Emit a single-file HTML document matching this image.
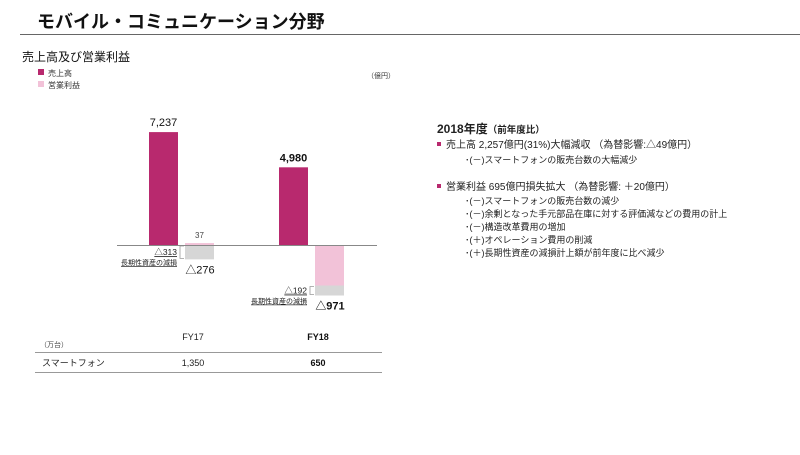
<!DOCTYPE html>
<html><head><meta charset="utf-8"><style>
body{margin:0;background:#fff;width:800px;height:450px;overflow:hidden;font-family:"Liberation Sans","Noto Sans CJK JP",sans-serif;}
svg text{font-family:"Liberation Sans","Noto Sans CJK JP",sans-serif;}
</style></head><body>
<svg width="800" height="450" xmlns="http://www.w3.org/2000/svg">
<text x="37" y="28" font-size="18" font-weight="bold" fill="#111">モバイル・コミュニケーション分野</text>
<line x1="20" y1="34.5" x2="800" y2="34.5" stroke="#666" stroke-width="1"/>
<text x="22" y="61" font-size="12" fill="#111">売上高及び営業利益</text>
<rect x="38" y="69" width="6" height="6" fill="#b8296e"/>
<text x="48" y="76" font-size="8" fill="#333">売上高</text>
<rect x="38" y="81" width="6" height="6" fill="#f2c2d8"/>
<text x="48" y="88" font-size="8" fill="#333">営業利益</text>
<text x="367" y="78" font-size="7" fill="#333">（億円）</text>
<g id="chart"></g>
<line x1="117" y1="245.5" x2="377" y2="245.5" stroke="#888" stroke-width="1"/>
<text x="193" y="340" font-size="9" fill="#222" text-anchor="middle">FY17</text>
<text x="318" y="340" font-size="9" font-weight="bold" fill="#111" text-anchor="middle">FY18</text>
<text x="40" y="347" font-size="7" fill="#444">（万台）</text>
<line x1="35" y1="352.5" x2="382" y2="352.5" stroke="#999"/>
<text x="42" y="366" font-size="9" fill="#222">スマートフォン</text>
<text x="193" y="366" font-size="9" fill="#222" text-anchor="middle">1,350</text>
<text x="318" y="366" font-size="9" font-weight="bold" fill="#111" text-anchor="middle">650</text>
<line x1="35" y1="372.5" x2="382" y2="372.5" stroke="#999"/>
<g font-size="10" fill="#222">
<text x="437" y="133" font-size="12" font-weight="bold">2018年度<tspan font-size="9.5">（前年度比）</tspan></text>
<rect x="437" y="142" width="4" height="4" fill="#b8296e"/>
<text x="446" y="148">売上高  2,257億円(31%)大幅減収 （為替影響:△49億円）</text>
<text x="465" y="163" font-size="9">･(－)スマートフォンの販売台数の大幅減少</text>
<rect x="437" y="184" width="4" height="4" fill="#b8296e"/>
<text x="446" y="190">営業利益  695億円損失拡大 （為替影響: ＋20億円）</text>
<text x="465" y="204" font-size="9">･(－)スマートフォンの販売台数の減少</text>
<text x="465" y="217" font-size="9">･(－)余剰となった手元部品在庫に対する評価減などの費用の計上</text>
<text x="465" y="230" font-size="9">･(－)構造改革費用の増加</text>
<text x="465" y="243" font-size="9">･(＋)オペレーション費用の削減</text>
<text x="465" y="256" font-size="9">･(＋)長期性資産の減損計上額が前年度に比べ減少</text>
</g>
</svg>
<script>
const categories=["FY17","FY18"];
const sales=[7237,4980];
const opIncome=[-276,-971];
const impairment=[313,192];
const salesLabels=["7,237","4,980"];
const opLabels=["37","△276","△971"];
const impLabels=["△313","△192"];
const NS="http://www.w3.org/2000/svg";
const g=document.getElementById('chart');
const base=245;
const ySales=v=>base-v*0.0156;
const yOp=v=>base-v*0.052;
const xCat=i=>149+i*130;
function mk(t,a,txt){const e=document.createElementNS(NS,t);for(const k in a)e.setAttribute(k,a[k]);if(txt!=null)e.textContent=txt;g.appendChild(e);return e;}
categories.forEach((c,i)=>{
  const x=xCat(i);
  const s=mk('rect',{x:x,y:ySales(sales[i]),width:29,height:base-ySales(sales[i]),fill:'#b8296e'});
  
  
  const sl=mk('text',{x:x+14.5,y:ySales(sales[i])-6,'font-size':11,'font-weight':i==1?'bold':'normal','text-anchor':'middle',fill:'#111'},salesLabels[i]);
  
  
  const ox=x+36;
  const pre=opIncome[i]+impairment[i];
  const py0=Math.min(yOp(pre),base), py1=Math.max(yOp(pre),base);
  const p=mk('rect',{x:ox,y:py0,width:29,height:Math.max(py1-py0,1.5),fill:'#f2c2d8'});
  
  
  const gy0=pre>0?base:yOp(pre);
  const gy1=yOp(opIncome[i]);
  const gr=mk('rect',{x:ox,y:gy0,width:29,height:gy1-gy0,fill:'#d6d6d6'});
  
  
  const br=mk('path',{d:`M${ox-1} ${gy0+1} h-4 v${gy1-gy0-2} h4`,fill:'none',stroke:'#999','stroke-width':0.8});
  
  
  const my=(gy0+gy1)/2;
  const il=mk('text',{x:ox-8,y:my+3,'font-size':8.5,'text-anchor':'end',fill:'#222','text-decoration':'underline'},impLabels[i]);
  
  
  const in2=mk('text',{x:ox-8,y:my+13,'font-size':7,'text-anchor':'end',fill:'#222','text-decoration':'underline'},'長期性資産の減損');
  
  
  if(pre>0){
    const t=mk('text',{x:ox+14.5,y:yOp(pre)-5,'font-size':8,'text-anchor':'middle',fill:'#444'},opLabels[0]);
    
    
  }
  const ol=mk('text',{x:ox+15,y:gy1+14,'font-size':11,'font-weight':i==1?'bold':'normal','text-anchor':'middle',fill:'#111'},opLabels[i+1]);
  
  
});
</script>
</body></html>
